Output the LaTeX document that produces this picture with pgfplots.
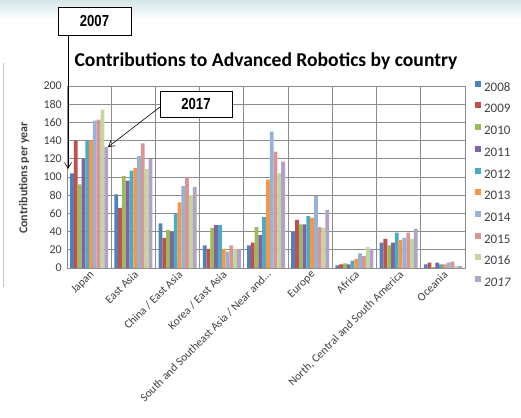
\documentclass[border=0pt]{standalone}
\usepackage{pgfplots}
\usepackage{pgfplotstable}
\pgfplotsset{compat=1.18}
\usepackage{fontspec}
\setmainfont{Carlito}
\newfontfamily\annofont[FakeStretch=0.82]{Liberation Sans}
\usetikzlibrary{arrows.meta}

\definecolor{c08}{HTML}{4F81BD}
\definecolor{c09}{HTML}{C0504D}
\definecolor{c10}{HTML}{9BBB59}
\definecolor{c11}{HTML}{8064A2}
\definecolor{c12}{HTML}{4BACC6}
\definecolor{c13}{HTML}{F79646}
\definecolor{c14}{HTML}{95B3D7}
\definecolor{c15}{HTML}{D99694}
\definecolor{c16}{HTML}{C3D69B}
\definecolor{c17}{HTML}{B3A2C7}
\definecolor{gridc}{HTML}{8C8C8C}
\definecolor{tickc}{HTML}{404040}
\definecolor{bandc}{HTML}{D5E6E8}

% contributions per year, one row per region
\pgfplotstableread{
x  y2008 y2009 y2010 y2011 y2012 y2013 y2014 y2015 y2016 y2017
0  104   140   92    120   140   140   162   163   174   133
1  81    66    101   96    107   110   123   137   109   120
2  49    33    42    40    60    72    90    100   80    89
3  25    21    44    47    47    21    18    25    21    21
4  25    28    45    36    56    97    150   128   104   117
5  40    53    48    48    57    55    79    45    44    64
6  3     4     5     4     8     10    16    13    23    21
7  28    32    25    28    39    31    33    39    32    43
8  4     6     1     6     4     4     6     7     2     2
}\robots

\begin{document}
\begin{tikzpicture}
\useasboundingbox (0,0) rectangle (521pt,-417pt);
\shade[top color=bandc, bottom color=white] (0,0) rectangle (521pt,-20pt);
\draw[gray!45, line width=1pt] (3.5pt,-63pt) -- (3.5pt,-287pt);

\begin{axis}[
    at={(67pt,-268pt)}, anchor=south west,
    scale only axis, width=398pt, height=182pt,
    ybar=0pt, bar width=3.8pt,
    xmin=-0.5, xmax=8.5, ymin=0, ymax=200,
    xtick={0,...,8},
    xticklabels={Japan, East Asia, China / East Asia, Korea / East Asia,
        South and Southeast Asia / Near and…, Europe, Africa,
        {North, Central and South America}, Oceania},
    minor xtick={-0.5,0.5,...,8.5},
    ytick={0,20,...,200},
    xminorgrids, ymajorgrids,
    major tick length=0pt, minor tick length=0pt,
    axis line style={gridc, line width=0.8pt},
    grid style={gridc, line width=0.8pt},
    minor grid style={gridc, line width=0.8pt},
    tick label style={font=\fontsize{12}{14}\selectfont, text=tickc},
    yticklabel style={inner sep=1pt, xshift=-4pt},
    xticklabel style={rotate=45, anchor=north east, inner sep=1pt,
        font=\fontsize{11.5}{13}\selectfont},
    /pgf/number format/assume math mode=true,
    title={Contributions to Advanced Robotics by country},
    title style={at={(0.5,1)}, anchor=base, yshift=14pt,
        font=\bfseries\fontsize{19.6}{24}\selectfont},
    ylabel={Contributions per year},
    ylabel style={at={(axis description cs:-0.108,0.495)}, anchor=center,
        font=\bfseries\fontsize{12}{14}\selectfont, text=tickc},
    legend style={at={(axis description cs:1.025,1.03)}, anchor=north west,
        draw=none, fill=none, inner sep=0pt, row sep=11.2pt,
        nodes={inner sep=0pt, text height=8pt, text depth=0pt,
            font=\fontsize{13}{15}\selectfont, text=tickc},
        /tikz/every odd column/.style={column sep=3pt}},
    legend cell align=left,
    legend image code/.code={\fill[#1] (0pt,0.5pt) rectangle (6pt,6.5pt);},
    clip=false,
]
\addplot[fill=c08, draw=none] table[x=x, y=y2008] {\robots};
\addlegendentry{2008}
\addplot[fill=c09, draw=none] table[x=x, y=y2009] {\robots};
\addlegendentry{2009}
\addplot[fill=c10, draw=none] table[x=x, y=y2010] {\robots};
\addlegendentry{2010}
\addplot[fill=c11, draw=none] table[x=x, y=y2011] {\robots};
\addlegendentry{2011}
\addplot[fill=c12, draw=none] table[x=x, y=y2012] {\robots};
\addlegendentry{2012}
\addplot[fill=c13, draw=none] table[x=x, y=y2013] {\robots};
\addlegendentry{2013}
\addplot[fill=c14, draw=none] table[x=x, y=y2014] {\robots};
\addlegendentry{2014}
\addplot[fill=c15, draw=none] table[x=x, y=y2015] {\robots};
\addlegendentry{2015}
\addplot[fill=c16, draw=none] table[x=x, y=y2016] {\robots};
\addlegendentry{2016}
\addplot[fill=c17, draw=none] table[x=x, y=y2017] {\robots};
\addlegendentry{\itshape 2017}
\end{axis}

% callouts
\node[draw, fill=white, line width=0.8pt, minimum width=73pt, minimum height=28pt,
    inner sep=0pt, font=\annofont\bfseries\fontsize{16}{18}\selectfont]
    at (94.5pt,-21pt) {2007};
\draw[line width=0.6pt, -{Straight Barb[length=6pt,width=7pt]}]
    (68pt,-35pt) -- (68pt,-169pt);
\node[draw, fill=white, line width=0.8pt, minimum width=72pt, minimum height=26pt,
    inner sep=0pt, font=\annofont\bfseries\fontsize{16}{18}\selectfont]
    at (196pt,-104pt) {2017};
\draw[line width=0.6pt, -{Straight Barb[length=6pt,width=7pt]}]
    (160pt,-107pt) -- (108pt,-147pt);
\end{tikzpicture}
\end{document}
